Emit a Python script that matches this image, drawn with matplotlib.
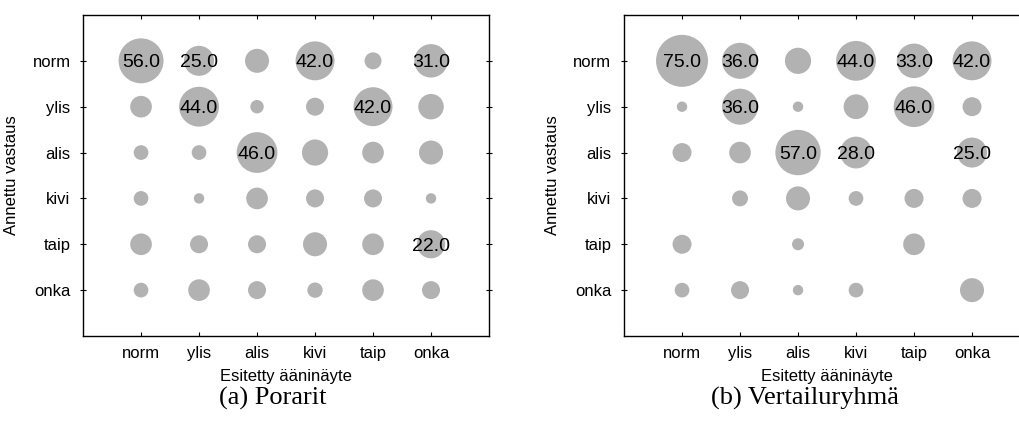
import numpy as np
import matplotlib.pyplot as plt

plt.rcParams['font.family'] = ['Liberation Sans', 'DejaVu Sans']

# Categories (columns = presented sample, rows = given answer)
labels = ["norm", "ylis", "alis", "kivi", "taip", "onka"]

# Percentages, rows = answer, cols = presented sample
porarit = [
    [56, 25, 16, 42, 8, 31],
    [13, 44, 5, 9, 42, 18],
    [6, 6, 46, 19, 13, 16],
    [6, 3, 13, 9, 9, 3],
    [13, 9, 9, 16, 13, 22],
    [6, 13, 9, 6.5, 13, 9],
]
vertailu = [
    [75, 36, 19, 44, 33, 42],
    [3, 36, 3, 17, 46, 10],
    [10, 13, 57, 28, 0, 25],
    [0, 7, 16, 6, 10, 10],
    [10, 0, 4, 0, 13, 0],
    [6, 9, 3, 6, 0, 16],
]
captions = ["(a) Porarit", "(b) Vertailuryhmä"]

fig = plt.figure(figsize=(10.19, 4.23), dpi=100)
positions = [[0.0815, 0.2057, 0.3984, 0.7589],
             [0.6124, 0.2057, 0.3984, 0.7589]]
caption_x = [0.268, 0.790]

for data, pos, cap, cx in zip([porarit, vertailu], positions, captions, caption_x):
    ax = fig.add_axes(pos)
    vals = np.array(data, dtype=float)
    rows, cols = np.nonzero(vals > 0)
    v = vals[rows, cols]
    ax.scatter(cols + 1, rows + 1, s=18.7 * v, color="#b2b2b2",
               edgecolors="none", zorder=2)
    for r, c, val in zip(rows, cols, v):
        if val >= 20:
            ax.text(c + 1, r + 1, "%.1f" % val, ha="center",
                    va="center_baseline", fontsize=14, zorder=3)
    ax.set_xlim(0, 7)
    ax.set_ylim(7, 0)
    ax.set_xticks(range(1, 7))
    ax.set_xticklabels(labels, fontsize=12)
    ax.set_yticks(range(1, 7))
    ax.set_yticklabels(labels, fontsize=12)
    ax.tick_params(axis="x", direction="in", top=True, length=3, pad=7)
    ax.tick_params(axis="y", direction="inout", right=True, length=4, pad=7)
    for sp in ax.spines.values():
        sp.set_linewidth(1.0)
    ax.set_xlabel("Esitetty ääninäyte", fontsize=12, labelpad=6)
    ax.set_ylabel("Annettu vastaus", fontsize=12, labelpad=10)
    fig.text(cx, 0.057, cap, ha="center", va="center", fontsize=19,
             family="Liberation Serif")

fig.savefig("out.png", dpi=100)
